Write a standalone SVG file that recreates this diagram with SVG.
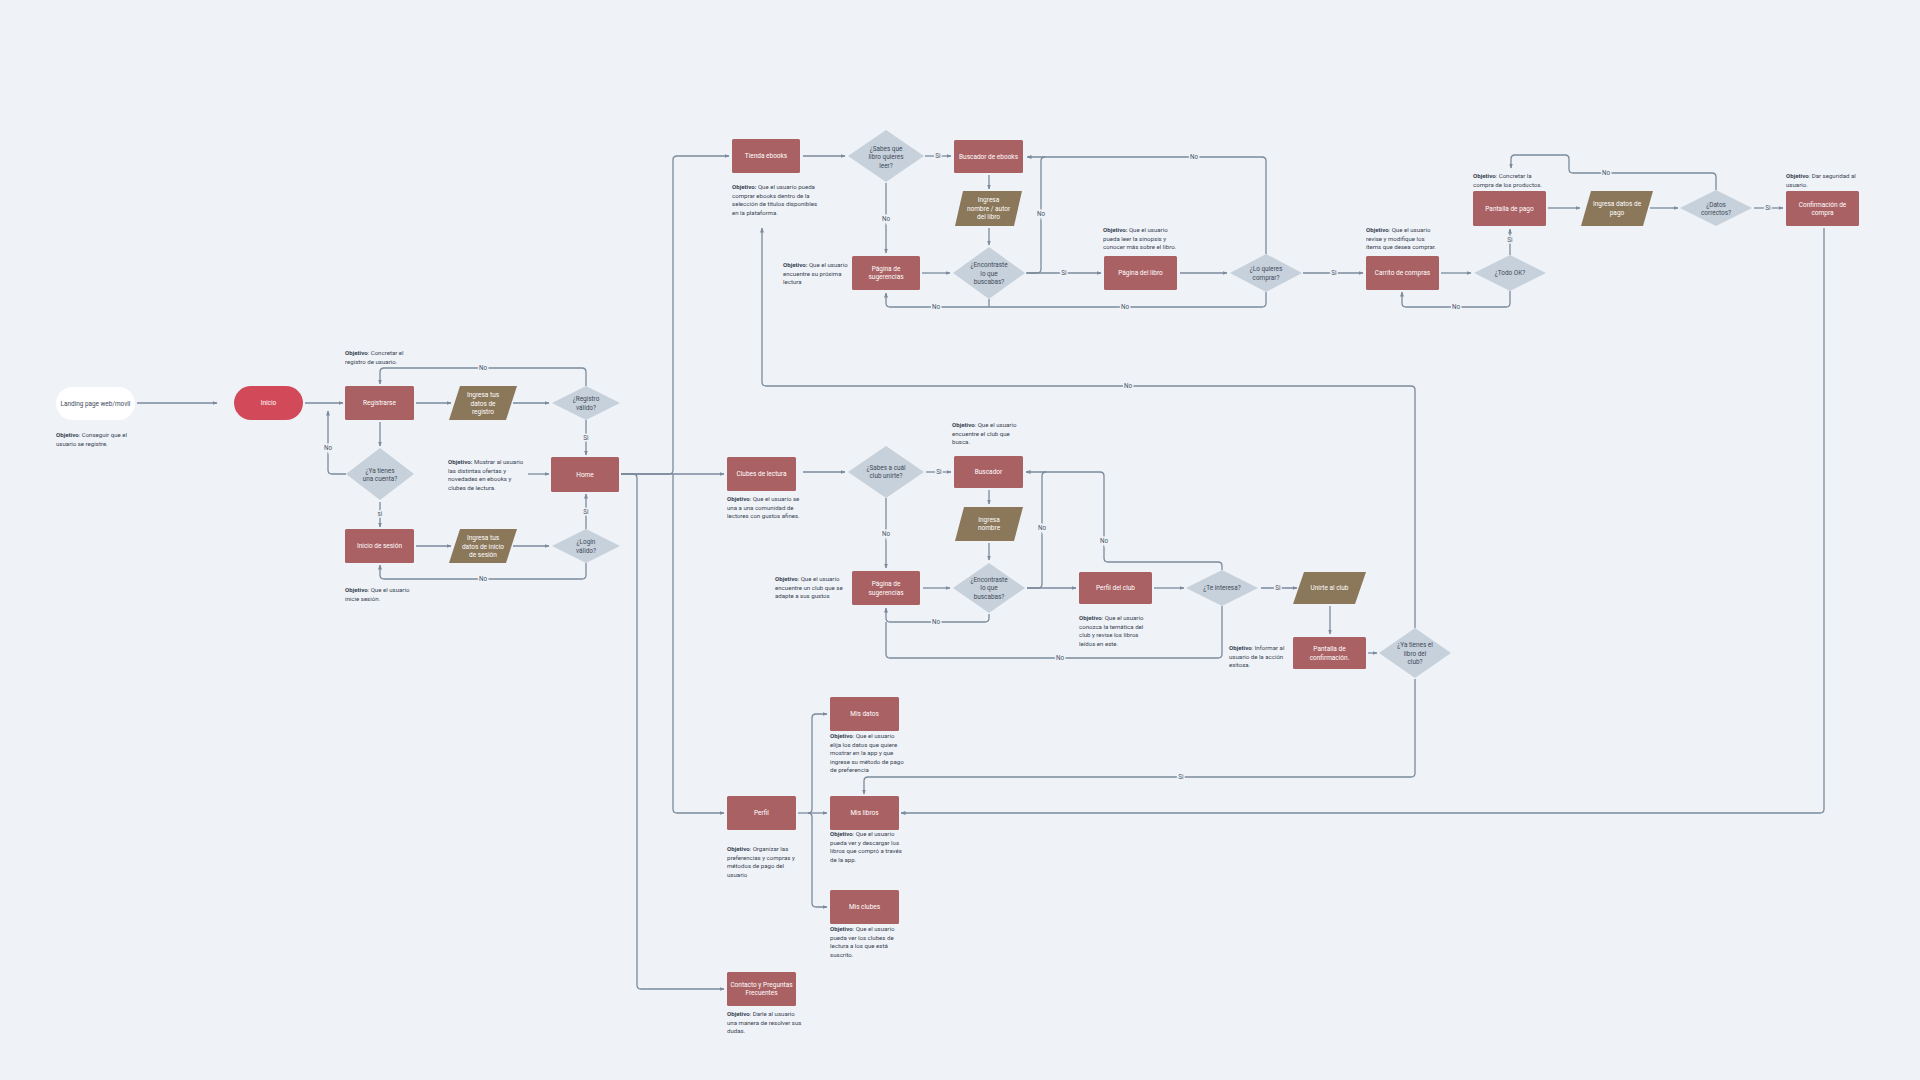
<svg xmlns="http://www.w3.org/2000/svg" width="1920" height="1080" viewBox="0 0 1920 1080">
<defs>
<marker id="arr" viewBox="0 0 10 10" refX="9" refY="5" markerWidth="5" markerHeight="5" markerUnits="userSpaceOnUse" orient="auto">
<path d="M0,1 L10,5 L0,9 z" fill="#7b8a9c"/>
</marker>
<style>
text{font-family:Roboto,"Liberation Sans",sans-serif}
.box{fill:#aa6163}
.io{fill:#8b775a}
.dec{fill:#c7d1db}
.t{fill:#ffffff;font-size:6.5px;text-anchor:middle}
.dt{fill:#3e4a5a;font-size:6.4px;text-anchor:middle}
.obj{fill:#3a4353;font-size:6.1px}
.obj tspan.b{font-weight:bold}
.e{fill:none;stroke:#7b8a9c;stroke-width:1.3}
.a{marker-end:url(#arr)}
.el{fill:#4a5568;font-size:6.3px;text-anchor:middle;stroke:#eff3f7;stroke-width:3px;paint-order:stroke}
</style>
</defs>
<rect width="1920" height="1080" fill="#eff3f7"/>

<g id="connectors">
<path class="e a" d="M137,403 H217"/>
<path class="e a" d="M305,403 H343"/>
<path class="e a" d="M416,403 H451"/>
<path class="e a" d="M513,403 H549"/>
<path class="e a" d="M586,386 V372 Q586,368 582,368 H384 Q380,368 380,372 V384"/>
<path class="e a" d="M586,420 V455"/>
<path class="e a" d="M528,474 H549"/>
<path class="e a" d="M380,422 V446"/>
<path class="e a" d="M346,474 H332 Q328,474 328,470 V411"/>
<path class="e a" d="M380,502 V527"/>
<path class="e a" d="M416,546 H451"/>
<path class="e a" d="M513,546 H549"/>
<path class="e a" d="M586,529 V494"/>
<path class="e a" d="M586,563 V575 Q586,579 582,579 H384 Q380,579 380,575 V565"/>

<path class="e a" d="M621,474 H669 Q673,474 673,470 V160 Q673,156 677,156 H729"/>
<path class="e a" d="M621,474 H724"/>
<path class="e a" d="M673,474 V809 Q673,813 677,813 H724"/>
<path class="e a" d="M621,474 H633 Q637,474 637,478 V985 Q637,989 641,989 H724"/>

<path class="e a" d="M803,156 H845"/>
<path class="e a" d="M925,156 H951"/>
<path class="e a" d="M989,175 V189"/>
<path class="e a" d="M989,228 V245"/>
<path class="e a" d="M886,183 V253"/>
<path class="e a" d="M922,273 H950"/>
<path class="e a" d="M1026,273 H1101"/>
<path class="e a" d="M1266,254 V161 Q1266,157 1262,157 H1027"/>
<path class="e" d="M1027,273 H1037 Q1041,273 1041,269 V161 Q1041,157 1045,157"/>
<path class="e a" d="M1180,273 H1227"/>
<path class="e a" d="M1266,292 V303 Q1266,307 1262,307 H890 Q886,307 886,303 V293"/>
<path class="e" d="M989,299 V307"/>
<path class="e a" d="M1303,273 H1363"/>
<path class="e a" d="M1441,273 H1471"/>
<path class="e a" d="M1510,255 V229"/>
<path class="e a" d="M1510,291 V303 Q1510,307 1506,307 H1406 Q1402,307 1402,303 V292"/>
<path class="e a" d="M1548,208 H1580"/>
<path class="e a" d="M1650,208 H1678"/>
<path class="e a" d="M1754,208 H1783"/>
<path class="e a" d="M1716,190 V177 Q1716,173 1712,173 H1573 Q1569,173 1569,169 V159 Q1569,155 1565,155 H1515 Q1511,155 1511,159 V168"/>
<path class="e a" d="M1824,228 V809 Q1824,813 1820,813 H901"/>

<path class="e a" d="M803,472 H845"/>
<path class="e a" d="M926,472 H951"/>
<path class="e a" d="M989,490 V504"/>
<path class="e a" d="M989,543 V560"/>
<path class="e a" d="M886,498 V568"/>
<path class="e a" d="M923,588 H950"/>
<path class="e a" d="M1027,588 H1076"/>
<path class="e a" d="M1222,570 V566 Q1222,562 1218,562 H1108 Q1104,562 1104,558 V476 Q1104,472 1100,472 H1026"/>
<path class="e" d="M1027,588 H1038 Q1042,588 1042,584 V476 Q1042,472 1046,472"/>
<path class="e a" d="M989,614 V618 Q989,622 985,622 H890 Q886,622 886,618 V608"/>
<path class="e" d="M1222,606 V654 Q1222,658 1218,658 H890 Q886,658 886,654 V622"/>
<path class="e a" d="M1154,588 H1184"/>
<path class="e a" d="M1261,588 H1297"/>
<path class="e a" d="M1330,606 V634"/>
<path class="e a" d="M1368,653 H1377"/>
<path class="e a" d="M1415,628 V390 Q1415,386 1411,386 H766 Q762,386 762,382 V228"/>
<path class="e a" d="M1415,679 V773 Q1415,777 1411,777 H868 Q864,777 864,781 V794"/>

<path class="e a" d="M798,813 H827"/>
<path class="e a" d="M808,813 Q812,813 812,809 V718 Q812,714 816,714 H827"/>
<path class="e a" d="M808,813 Q812,813 812,817 V903 Q812,907 816,907 H827"/>

<text class="el" x="483" y="370">No</text>
<text class="el" x="586" y="440">Si</text>
<text class="el" x="328" y="450">No</text>
<text class="el" x="380" y="516">si</text>
<text class="el" x="586" y="514">Si</text>
<text class="el" x="483" y="581">No</text>
<text class="el" x="938" y="158">Si</text>
<text class="el" x="886" y="221">No</text>
<text class="el" x="1064" y="275">Si</text>
<text class="el" x="1041" y="216">No</text>
<text class="el" x="1194" y="159">No</text>
<text class="el" x="1125" y="309">No</text>
<text class="el" x="936" y="309">No</text>
<text class="el" x="1334" y="275">Si</text>
<text class="el" x="1510" y="242">Si</text>
<text class="el" x="1456" y="309">No</text>
<text class="el" x="1768" y="210">Si</text>
<text class="el" x="1606" y="175">No</text>
<text class="el" x="939" y="474">Si</text>
<text class="el" x="886" y="536">No</text>
<text class="el" x="1104" y="543">No</text>
<text class="el" x="1042" y="530">No</text>
<text class="el" x="936" y="624">No</text>
<text class="el" x="1060" y="660">No</text>
<text class="el" x="1278" y="590">Si</text>
<text class="el" x="1128" y="388">No</text>
<text class="el" x="1181" y="779">Si</text>
</g>

<g id="landing">
<rect x="56" y="387" width="79" height="33" rx="16.5" fill="#ffffff"/>
<text class="dt" x="95.5" y="405.5">Landing page web/movil</text>
<text class="obj" x="56" y="437"><tspan class="b">Objetivo</tspan>: Conseguir que el</text>
<text class="obj" x="56" y="446">usuario se registre.</text>
</g>
<g id="inicio">
<rect x="234" y="386" width="69" height="34" rx="17" fill="#d24a5a"/>
<text class="t" x="268.5" y="405">Inicio</text>
</g>
<g id="registrarse">
<rect class="box" x="345" y="386" width="69" height="34" rx="1.5"/>
<text class="t" x="379.5" y="405">Registrarse</text>
<text class="obj" x="345" y="355"><tspan class="b">Objetivo</tspan>: Concretar el</text>
<text class="obj" x="345" y="364">registro de usuario.</text>
</g>
<g id="ingresa-registro">
<polygon class="io" points="460,386 517,386 506,420 449,420"/>
<text class="t" x="483" y="397">Ingresa tus</text>
<text class="t" x="483" y="405.5">datos de</text>
<text class="t" x="483" y="414">registro</text>
</g>
<g id="registro-valido">
<polygon class="dec" points="586,386 620,403 586,420 552,403"/>
<text class="dt" x="586" y="401">¿Registro</text>
<text class="dt" x="586" y="409.5">válido?</text>
</g>
<g id="home">
<rect class="box" x="551" y="457" width="68" height="35" rx="1.5"/>
<text class="t" x="585" y="476.5">Home</text>
<text class="obj" x="448" y="464"><tspan class="b">Objetivo:</tspan> Mostrar al usuario</text>
<text class="obj" x="448" y="472.5">las distintas ofertas y</text>
<text class="obj" x="448" y="481">novedades en ebooks y</text>
<text class="obj" x="448" y="489.5">clubes de lectura.</text>
</g>
<g id="ya-cuenta">
<polygon class="dec" points="380,448 414,474 380,500 346,474"/>
<text class="dt" x="380" y="472.5">¿Ya tienes</text>
<text class="dt" x="380" y="481">una cuenta?</text>
</g>
<g id="inicio-sesion">
<rect class="box" x="345" y="529" width="69" height="34" rx="1.5"/>
<text class="t" x="379.5" y="548">Inicio de sesión</text>
<text class="obj" x="345" y="592"><tspan class="b">Objetivo</tspan>: Que el usuario</text>
<text class="obj" x="345" y="600.5">inicie sesión.</text>
</g>
<g id="ingresa-sesion">
<polygon class="io" points="460,529 517,529 506,563 449,563"/>
<text class="t" x="483" y="540">Ingresa tus</text>
<text class="t" x="483" y="548.5">datos de inicio</text>
<text class="t" x="483" y="557">de sesión</text>
</g>
<g id="login-valido">
<polygon class="dec" points="586,529 620,546 586,563 552,546"/>
<text class="dt" x="586" y="544">¿Login</text>
<text class="dt" x="586" y="552.5">válido?</text>
</g>

<g id="tienda">
<rect class="box" x="732" y="139" width="68" height="34" rx="1.5"/>
<text class="t" x="766" y="158">Tienda ebooks</text>
<text class="obj" x="732" y="189"><tspan class="b">Objetivo:</tspan> Que el usuario pueda</text>
<text class="obj" x="732" y="197.5">comprar ebooks dentro de la</text>
<text class="obj" x="732" y="206">selección de títulos disponibles</text>
<text class="obj" x="732" y="214.5">en la plataforma.</text>
</g>
<g id="sabes-libro">
<polygon class="dec" points="886,130 924,156 886,182 848,156"/>
<text class="dt" x="886" y="150.5">¿Sabes que</text>
<text class="dt" x="886" y="159">libro quieres</text>
<text class="dt" x="886" y="167.5">leer?</text>
</g>
<g id="buscador-ebooks">
<rect class="box" x="954" y="140" width="69" height="33" rx="1.5"/>
<text class="t" x="988.5" y="158.5">Buscador de ebooks</text>
</g>
<g id="ingresa-libro">
<polygon class="io" points="963,191 1022,191 1014,226 955,226"/>
<text class="t" x="988.5" y="202">Ingresa</text>
<text class="t" x="988.5" y="210.5">nombre / autor</text>
<text class="t" x="988.5" y="219">del libro</text>
</g>
<g id="encontraste-ebook">
<polygon class="dec" points="989,247 1025,273 989,299 953,273"/>
<text class="dt" x="989" y="267">¿Encontraste</text>
<text class="dt" x="989" y="275.5">lo que</text>
<text class="dt" x="989" y="284">buscabas?</text>
</g>
<g id="sugerencias-ebook">
<rect class="box" x="852" y="256" width="68" height="34" rx="1.5"/>
<text class="t" x="886" y="270.5">Página de</text>
<text class="t" x="886" y="279">sugerencias</text>
<text class="obj" x="783" y="267"><tspan class="b">Objetivo:</tspan> Que el usuario</text>
<text class="obj" x="783" y="275.5">encuentre su próxima</text>
<text class="obj" x="783" y="284">lectura</text>
</g>
<g id="pagina-libro">
<rect class="box" x="1104" y="256" width="73" height="34" rx="1.5"/>
<text class="t" x="1140.5" y="275">Página del libro</text>
<text class="obj" x="1103" y="232"><tspan class="b">Objetivo:</tspan> Que el usuario</text>
<text class="obj" x="1103" y="240.5">pueda leer la sinopsis y</text>
<text class="obj" x="1103" y="249">conocer más sobre el libro.</text>
</g>
<g id="quieres-comprar">
<polygon class="dec" points="1266,254 1302,273 1266,292 1230,273"/>
<text class="dt" x="1266" y="271">¿Lo quieres</text>
<text class="dt" x="1266" y="279.5">comprar?</text>
</g>
<g id="carrito">
<rect class="box" x="1366" y="256" width="73" height="34" rx="1.5"/>
<text class="t" x="1402.5" y="275">Carrito de compras</text>
<text class="obj" x="1366" y="232"><tspan class="b">Objetivo</tspan>: Que el usuario</text>
<text class="obj" x="1366" y="240.5">revise y modifique los</text>
<text class="obj" x="1366" y="249">ítems que desea comprar.</text>
</g>
<g id="todo-ok">
<polygon class="dec" points="1510,255 1546,273 1510,291 1474,273"/>
<text class="dt" x="1510" y="275">¿Todo OK?</text>
</g>
<g id="pantalla-pago">
<rect class="box" x="1473" y="191" width="73" height="35" rx="1.5"/>
<text class="t" x="1509.5" y="210.5">Pantalla de pago</text>
<text class="obj" x="1473" y="178"><tspan class="b">Objetivo</tspan>: Concretar la</text>
<text class="obj" x="1473" y="186.5">compra de los productos.</text>
</g>
<g id="ingresa-pago">
<polygon class="io" points="1591,191 1653,191 1643,226 1581,226"/>
<text class="t" x="1617" y="206">Ingresa datos de</text>
<text class="t" x="1617" y="214.5">pago</text>
</g>
<g id="datos-correctos">
<polygon class="dec" points="1716,190 1752,208 1716,226 1680,208"/>
<text class="dt" x="1716" y="206.5">¿Datos</text>
<text class="dt" x="1716" y="215">correctos?</text>
</g>
<g id="confirmacion-compra">
<rect class="box" x="1786" y="191" width="73" height="35" rx="1.5"/>
<text class="t" x="1822.5" y="206.5">Confirmación de</text>
<text class="t" x="1822.5" y="215">compra</text>
<text class="obj" x="1786" y="178"><tspan class="b">Objetivo</tspan>: Dar seguridad al</text>
<text class="obj" x="1786" y="186.5">usuario.</text>
</g>

<g id="clubes">
<rect class="box" x="727" y="457" width="69" height="34" rx="1.5"/>
<text class="t" x="761.5" y="476">Clubes de lectura</text>
<text class="obj" x="727" y="501"><tspan class="b">Objetivo</tspan>: Que el usuario se</text>
<text class="obj" x="727" y="509.5">una a una comunidad de</text>
<text class="obj" x="727" y="518">lectores con gustos afines.</text>
</g>
<g id="sabes-club">
<polygon class="dec" points="886,446 924,472 886,498 848,472"/>
<text class="dt" x="886" y="469.5">¿Sabes a cuál</text>
<text class="dt" x="886" y="478">club unirte?</text>
</g>
<g id="buscador-club">
<rect class="box" x="954" y="456" width="69" height="32" rx="1.5"/>
<text class="t" x="988.5" y="474">Buscador</text>
<text class="obj" x="952" y="427"><tspan class="b">Objetivo</tspan>: Que el usuario</text>
<text class="obj" x="952" y="435.5">encuentre el club que</text>
<text class="obj" x="952" y="444">busca.</text>
</g>
<g id="ingresa-nombre">
<polygon class="io" points="964,507 1023,507 1014,541 955,541"/>
<text class="t" x="989" y="521.5">Ingresa</text>
<text class="t" x="989" y="530">nombre</text>
</g>
<g id="encontraste-club">
<polygon class="dec" points="989,563 1025,588 989,613 953,588"/>
<text class="dt" x="989" y="581.5">¿Encontraste</text>
<text class="dt" x="989" y="590">lo que</text>
<text class="dt" x="989" y="598.5">buscabas?</text>
</g>
<g id="sugerencias-club">
<rect class="box" x="852" y="571" width="68" height="34" rx="1.5"/>
<text class="t" x="886" y="586">Página de</text>
<text class="t" x="886" y="594.5">sugerencias</text>
<text class="obj" x="775" y="581"><tspan class="b">Objetivo</tspan>: Que el usuario</text>
<text class="obj" x="775" y="589.5">encuentre un club que se</text>
<text class="obj" x="775" y="598">adapte a sus gustos</text>
</g>
<g id="perfil-club">
<rect class="box" x="1079" y="572" width="73" height="32" rx="1.5"/>
<text class="t" x="1115.5" y="590">Perfil del club</text>
<text class="obj" x="1079" y="620"><tspan class="b">Objetivo</tspan>: Que el usuario</text>
<text class="obj" x="1079" y="628.5">conozca la temática del</text>
<text class="obj" x="1079" y="637">club y revise los libros</text>
<text class="obj" x="1079" y="645.5">leídos en este.</text>
</g>
<g id="te-interesa">
<polygon class="dec" points="1222,570 1258,588 1222,606 1186,588"/>
<text class="dt" x="1222" y="590">¿Te interesa?</text>
</g>
<g id="unirte">
<polygon class="io" points="1304,572 1366,572 1355,604 1293,604"/>
<text class="t" x="1329.5" y="590">Unirte al club</text>
</g>
<g id="pantalla-confirmacion">
<rect class="box" x="1293" y="637" width="73" height="32" rx="1.5"/>
<text class="t" x="1329.5" y="651">Pantalla de</text>
<text class="t" x="1329.5" y="659.5">confirmación.</text>
<text class="obj" x="1229" y="650"><tspan class="b">Objetivo</tspan>: Informar al</text>
<text class="obj" x="1229" y="658.5">usuario de la acción</text>
<text class="obj" x="1229" y="667">exitosa.</text>
</g>
<g id="ya-libro">
<polygon class="dec" points="1415,628 1451,653 1415,678 1379,653"/>
<text class="dt" x="1415" y="647">¿Ya tienes el</text>
<text class="dt" x="1415" y="655.5">libro del</text>
<text class="dt" x="1415" y="664">club?</text>
</g>

<g id="perfil">
<rect class="box" x="727" y="796" width="69" height="34" rx="1.5"/>
<text class="t" x="761.5" y="815">Perfil</text>
<text class="obj" x="727" y="851"><tspan class="b">Objetivo</tspan>: Organizar las</text>
<text class="obj" x="727" y="859.5">preferencias y compras y</text>
<text class="obj" x="727" y="868">métodos de pago del</text>
<text class="obj" x="727" y="876.5">usuario</text>
</g>
<g id="mis-datos">
<rect class="box" x="830" y="697" width="69" height="34" rx="1.5"/>
<text class="t" x="864.5" y="716">Mis datos</text>
<text class="obj" x="830" y="738"><tspan class="b">Objetivo</tspan>: Que el usuario</text>
<text class="obj" x="830" y="746.5">elija los datos que quiere</text>
<text class="obj" x="830" y="755">mostrar en la app y que</text>
<text class="obj" x="830" y="763.5">ingrese su método de pago</text>
<text class="obj" x="830" y="772">de preferencia</text>
</g>
<g id="mis-libros">
<rect class="box" x="830" y="796" width="69" height="34" rx="1.5"/>
<text class="t" x="864.5" y="815">Mis libros</text>
<text class="obj" x="830" y="836"><tspan class="b">Objetivo</tspan>: Que el usuario</text>
<text class="obj" x="830" y="844.5">pueda ver y descargar los</text>
<text class="obj" x="830" y="853">libros que compró a través</text>
<text class="obj" x="830" y="861.5">de la app.</text>
</g>
<g id="mis-clubes">
<rect class="box" x="830" y="890" width="69" height="34" rx="1.5"/>
<text class="t" x="864.5" y="909">Mis clubes</text>
<text class="obj" x="830" y="931"><tspan class="b">Objetivo</tspan>: Que el usuario</text>
<text class="obj" x="830" y="939.5">pueda ver los clubes de</text>
<text class="obj" x="830" y="948">lectura a los que está</text>
<text class="obj" x="830" y="956.5">suscrito.</text>
</g>
<g id="contacto">
<rect class="box" x="727" y="972" width="69" height="34" rx="1.5"/>
<text class="t" x="761.5" y="986.5">Contacto y Preguntas</text>
<text class="t" x="761.5" y="995">Frecuentes</text>
<text class="obj" x="727" y="1016"><tspan class="b">Objetivo</tspan>: Darle al usuario</text>
<text class="obj" x="727" y="1024.5">una manera de resolver sus</text>
<text class="obj" x="727" y="1033">dudas.</text>
</g>
</svg>
